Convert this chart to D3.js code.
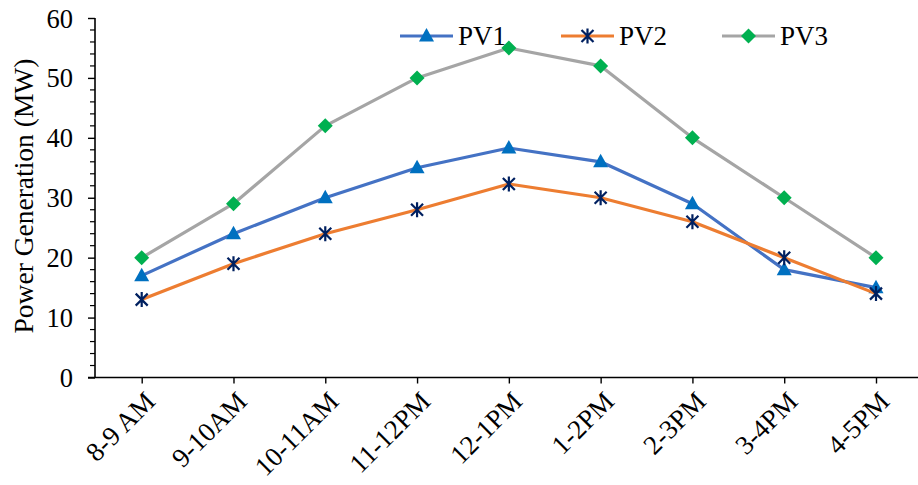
<!DOCTYPE html>
<html><head><meta charset="utf-8">
<script src="https://cdn.jsdelivr.net/npm/d3@7"></script>
<style>body{margin:0;background:#fff}svg{display:block}text{font-family:"Liberation Serif","Times New Roman",serif}</style>
</head><body>
<svg id="c" width="918" height="485"></svg>
<script>
const categories = ["8-9 AM","9-10AM","10-11AM","11-12PM","12-1PM","1-2PM","2-3PM","3-4PM","4-5PM"];
const pv1 = [17, 24, 30, 35, 38.3, 36, 29, 18, 15];
const pv2 = [13, 19, 24, 28, 32.3, 30, 26, 20, 14];
const pv3 = [20, 29, 42, 50, 55, 52, 40, 30, 20];
const seriesNames = ["PV1","PV2","PV3"];
const yTicks = [0,10,20,30,40,50,60];

const svg = d3.select("#c");
const x = d3.scalePoint().domain(categories).range([141.7, 876]);
const y = d3.scaleLinear().domain([0,60]).range([377.5, 18]);
const axisX0 = 95;
const FONT = "Liberation Serif";

// y axis
const ya = svg.append("g").attr("transform",`translate(${axisX0},0)`)
  .call(d3.axisLeft(y).tickValues(yTicks).tickSize(7).tickPadding(15));
ya.select(".domain").remove();
ya.selectAll("text").attr("font-size",26.5).attr("fill","#000").attr("font-family",FONT).attr("dy","0.34em");
ya.selectAll("line").attr("stroke","#000").attr("stroke-width",1.4);
const minor = d3.range(0,61,2).filter(v=>v%10!==0);
svg.append("g").selectAll("line").data(minor).join("line")
  .attr("x1",axisX0-5).attr("x2",axisX0).attr("y1",d=>y(d)).attr("y2",d=>y(d))
  .attr("stroke","#000").attr("stroke-width",1.2);
svg.append("line").attr("x1",axisX0).attr("x2",axisX0).attr("y1",y(60)).attr("y2",y(0)).attr("stroke","#000").attr("stroke-width",1.6);

// x axis
const xa = svg.append("g").attr("transform",`translate(0,${y(0)})`)
  .call(d3.axisBottom(x).tickSize(6).tickPadding(6));
xa.select(".domain").remove();
xa.selectAll("line").attr("stroke","#000").attr("stroke-width",1.4);
xa.selectAll("text").attr("font-size",27).attr("fill","#000").attr("font-family",FONT)
  .attr("text-anchor","end").attr("dy","0").attr("transform","translate(6,17) rotate(-45)");
svg.append("line").attr("x1",axisX0-7).attr("x2",918).attr("y1",y(0)).attr("y2",y(0)).attr("stroke","#000").attr("stroke-width",1.6);

// y label
svg.append("text").attr("transform","translate(33,196) rotate(-90)").attr("text-anchor","middle")
  .attr("font-size",27.5).attr("font-family",FONT).text("Power Generation (MW)");

const series = [
  {name:seriesNames[0], vals:pv1, line:"#4472C4", mark:"#0070C0", sym:"tri"},
  {name:seriesNames[1], vals:pv2, line:"#ED7D31", mark:"#002060", sym:"star"},
  {name:seriesNames[2], vals:pv3, line:"#A5A5A5", mark:"#00B050", sym:"dia"}
];
const line = d3.line().x((d,i)=>x(categories[i])).y(d=>y(d));

function marker(g, s, cx, cy){
  if(s.sym==="tri"){
    g.append("path").attr("d",`M${cx},${cy-8}L${cx+7.5},${cy+5.5}L${cx-7.5},${cy+5.5}Z`).attr("fill",s.mark);
  } else if(s.sym==="dia"){
    g.append("path").attr("d",`M${cx},${cy-7.5}L${cx+7.5},${cy}L${cx},${cy+7.5}L${cx-7.5},${cy}Z`).attr("fill",s.mark);
  } else {
    const r=6;
    g.append("path").attr("d",`M${cx-r},${cy-r}L${cx+r},${cy+r}M${cx-r},${cy+r}L${cx+r},${cy-r}M${cx},${cy-r-1.5}L${cx},${cy+r+1.5}`)
      .attr("stroke",s.mark).attr("stroke-width",2.2).attr("fill","none");
  }
}

series.forEach(s=>{
  svg.append("path").datum(s.vals).attr("d",line).attr("fill","none")
    .attr("stroke",s.line).attr("stroke-width",3.2).attr("stroke-linejoin","round");
  const g = svg.append("g");
  s.vals.forEach((v,i)=>marker(g,s,x(categories[i]),y(v)));
});

// legend
const legX = [400, 561, 722];
series.forEach((s,i)=>{
  const g = svg.append("g");
  const lx = legX[i], ly = 36;
  g.append("line").attr("x1",lx).attr("x2",lx+53).attr("y1",ly).attr("y2",ly).attr("stroke",s.line).attr("stroke-width",3.2);
  marker(g,s,lx+26.5,ly);
  g.append("text").attr("x",lx+58).attr("y",ly+9).attr("font-size",27).attr("font-family",FONT).text(s.name);
});
</script>
</body></html>
